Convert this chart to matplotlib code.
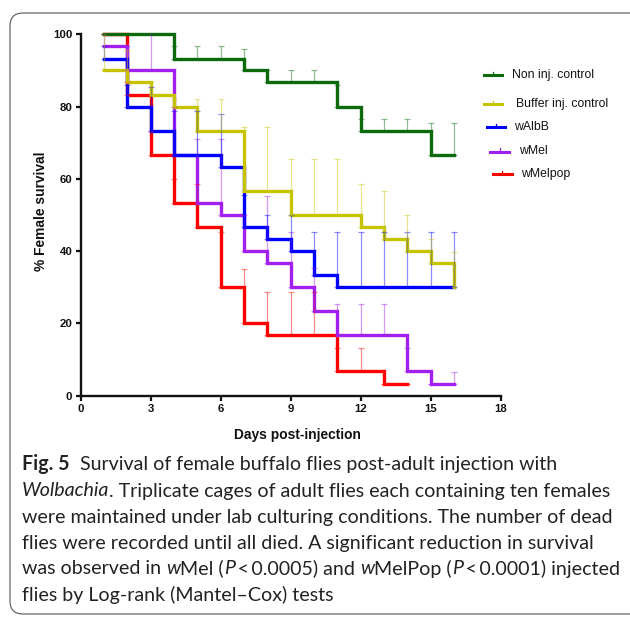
import matplotlib
matplotlib.use("Agg")
import matplotlib.pyplot as plt
from matplotlib.lines import Line2D
from matplotlib.patches import FancyBboxPatch
from matplotlib.transforms import IdentityTransform

# ---------------- data ----------------
days = list(range(1, 17))
series_names = ["Non inj. control", "Buffer inj. control", "wAlbB", "wMel", "wMelpop"]
series_colors = ["#0c6a0c", "#c6c400", "#0000ff", "#a21ff0", "#ff0000"]

non_inj = [100, 100, 100, 93.3, 93.3, 93.3, 90, 86.7, 86.7, 86.7, 80, 73.3, 73.3, 73.3, 66.7, 66.7]
non_inj_upper = [100, 100, 100, 96.7, 96.7, 96.7, 95.8, 90, 90, 90, 86, 76.7, 76.7, 76.7, 75.5, 75.5]

buffer_inj = [90, 86.7, 83.3, 80, 73.3, 73.3, 56.7, 56.7, 50, 50, 50, 46.7, 43.3, 40, 36.7, 30]
buffer_upper = [100, 95.6, 86.7, 82, 82.2, 82.2, 74.3, 74.3, 65.4, 65.4, 65.4, 58.7, 56.7, 50.1, 43.4, 39.9]

walbb = [93.3, 80, 73.3, 66.7, 66.7, 63.3, 46.7, 43.3, 40, 33.3, 30, 30, 30, 30, 30, 30]
walbb_upper = [96.7, 86, 85.3, 78.9, 78.9, 77.9, 55.5, 50.1, 50, 45.3, 45.3, 45.3, 45.3, 45.3, 45.3, 45.3]

wmel = [96.7, 90, 90, 66.7, 53.3, 50, 40, 36.7, 30, 23.3, 16.7, 16.7, 16.7, 6.7, 3.3, 3.3]
wmel_upper = [100, 96.7, 100, 80, 71, 71, 50, 55.3, 45.3, 35.2, 25.4, 25.4, 25.4, 13.3, 3.3, 6.5]

wmelpop_days = list(range(1, 15))
wmelpop = [100, 83.3, 66.7, 53.3, 46.7, 30, 20, 16.7, 16.7, 16.7, 6.7, 6.7, 3.3, 3.3]
wmelpop_upper = [100, 86.7, 73.3, 60, 58.7, 45.4, 35.1, 28.6, 28.6, 28.6, 13.2, 13.2, 3.3, 3.3]

x_ticks = [0, 3, 6, 9, 12, 15, 18]
y_ticks = [0, 20, 40, 60, 80, 100]
x_label = "Days post-injection"
y_label = "% Female survival"

# ---------------- figure ----------------
W, H = 630, 617
fig = plt.figure(figsize=(W / 100, H / 100), dpi=100)
def fx(px): return px / W
def fy(py): return 1 - py / H

ax = fig.add_axes([fx(80.7), fy(395.7), fx(500.7) - fx(80.7), fy(34.3) - fy(395.7)])

all_series = [
    (days, non_inj, non_inj_upper),
    (days, buffer_inj, buffer_upper),
    (days, walbb, walbb_upper),
    (days, wmel, wmel_upper),
    (wmelpop_days, wmelpop, wmelpop_upper),
]
draw_order = [4, 3, 2, 1, 0]  # red at the bottom, green on top
for k, i in enumerate(draw_order):
    d, v, up = all_series[i]
    c = series_colors[i]
    ax.step(d, v, where="post", color=c, lw=2.4, solid_joinstyle="miter",
            clip_on=False, zorder=3 + k * 0.1)
for i in draw_order:
    d, v, up = all_series[i]
    c = series_colors[i]
    yerr = [[0] * len(v), [u - val for u, val in zip(up, v)]]
    eb = ax.errorbar(d, v, yerr=yerr, fmt="none", ecolor=c, elinewidth=0.9,
                     capsize=2.4, capthick=0.9, alpha=0.45, zorder=5)
    for art in eb.get_children():
        art.set_clip_on(False)

ax.set_xlim(0, 18)
ax.set_ylim(0, 100)
ax.set_xticks(x_ticks)
ax.set_yticks(y_ticks)
for s in ["top", "right"]:
    ax.spines[s].set_visible(False)
for s in ["left", "bottom"]:
    ax.spines[s].set_linewidth(1.7)
    ax.spines[s].set_color("#111111")
ax.tick_params(direction="out", length=3.8, width=1.6, color="#111111", pad=2.2)
for lab in ax.get_xticklabels() + ax.get_yticklabels():
    lab.set_fontfamily("Liberation Sans")
    lab.set_fontweight("bold")
    lab.set_fontsize(8.2)
    lab.set_color("#111111")

fig.text(fx(297), fy(435), x_label, ha="center", va="center", fontsize=9.9,
         fontweight="bold", family="Liberation Sans", color="#111111")
fig.text(fx(41), fy(211), y_label, ha="center", va="center", rotation=90,
         fontsize=9.9, fontweight="bold", family="Liberation Sans", color="#111111")

# ---------------- legend (manual) ----------------
leg_pos = [(484, 502, 75, 511.5), (484, 502, 103.5, 516), (486.5, 505, 127, 514),
           (490, 509, 151.5, 519), (493, 511.5, 174, 521.5)]
for (x0, x1, yy, xt), name, c in zip(leg_pos, series_names, series_colors):
    fig.add_artist(Line2D([fx(x0), fx(x1)], [fy(yy), fy(yy)], color=c, lw=2.2,
                          transform=fig.transFigure))
    xm = (x0 + x1) / 2
    fig.add_artist(Line2D([fx(xm), fx(xm)], [fy(yy), fy(yy - 3)], color=c, lw=0.9,
                          transform=fig.transFigure))
    fig.text(fx(xt), fy(yy), name, ha="left", va="center", fontsize=8.8,
             family="Liberation Sans", color="#111111")

# ---------------- border ----------------
box = FancyBboxPatch((10, H - 614), 640, 601, boxstyle="round,pad=0,rounding_size=13",
                     transform=IdentityTransform(), fill=False, edgecolor="#555555",
                     lw=0.8)
fig.add_artist(box)

# ---------------- caption ----------------
cap_font = "Lato"
fig.canvas.draw()
renderer = fig.canvas.get_renderer()

def width_of(txt, **kw):
    t = fig.text(0, 0, txt, **kw)
    w = t.get_window_extent(renderer).width
    t.remove()
    return w

ref_line = "were maintained under lab culturing conditions. The number of dead"
w10 = width_of(ref_line, fontsize=10, family=cap_font)
cap_fs = 10 * 590 / w10
base_kw = dict(fontsize=cap_fs, family=cap_font, color="#222222")
space_w = width_of("a a", **base_kw) - width_of("aa", **base_kw)

def rich_line(x_px, y_px, parts):
    x = x_px
    for txt, style in parts:
        if txt == " ":
            x += space_w
            continue
        kw = dict(base_kw)
        kw.update(style)
        t = fig.text(fx(x), fy(y_px), txt, ha="left", va="baseline", **kw)
        x += t.get_window_extent(renderer).width

R = {}
I = {"style": "italic"}
B = {"fontweight": "bold"}
lines = [
    [("Fig. 5", B), (" ", R), (" ", R), ("Survival of female buffalo flies post-adult injection with", R)],
    [("Wolbachia", I), (". Triplicate cages of adult flies each containing ten females", R)],
    [("were maintained under lab culturing conditions. The number of dead", R)],
    [("flies were recorded until all died. A significant reduction in survival", R)],
    [("was observed in", R), (" ", R), ("w", I), ("Mel (", R), ("P", I), ("\u2009<\u20090.0005) and", R),
     (" ", R), ("w", I), ("MelPop (", R), ("P", I), ("\u2009<\u20090.0001) injected", R)],
    [("flies by Log-rank (Mantel\u2013Cox) tests", R)],
]
baselines = [470, 496.5, 522.5, 548.5, 574.5, 600.5]
for parts, yb in zip(lines, baselines):
    rich_line(22, yb, parts)

fig.savefig("out.png", dpi=100)
